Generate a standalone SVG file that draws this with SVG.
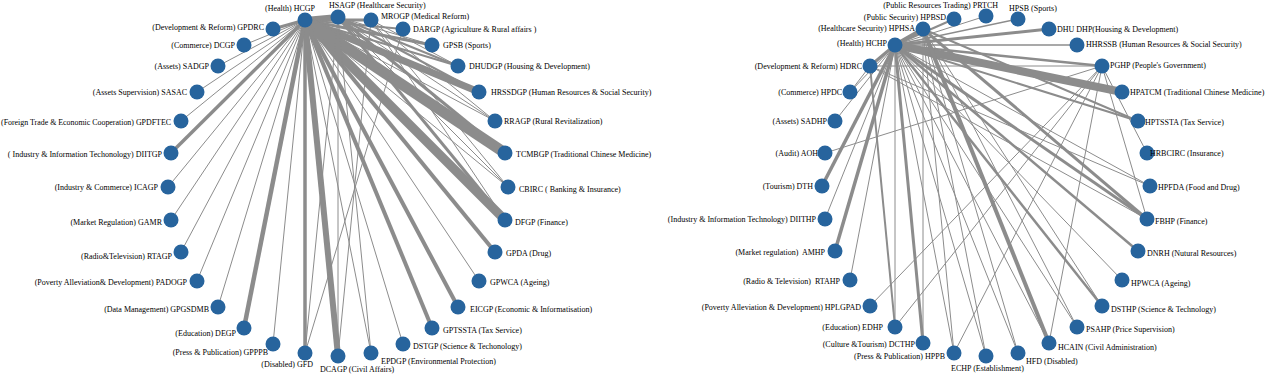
<svg xmlns="http://www.w3.org/2000/svg" width="1280" height="374" viewBox="0 0 1280 374">
<style>
.e{stroke:#8c8c8c;fill:none}
.n circle{fill:#27649d}
text{font-family:"Liberation Serif","DejaVu Serif",serif;font-size:8px;fill:#000}
.r{text-anchor:end}
.p{white-space:pre}
</style>
<rect width="1280" height="374" fill="#fff"/>
<g id="connectors-left" class="e">
<line x1="305" y1="20" x2="338" y2="17" stroke-width="6"/>
<line x1="305" y1="20" x2="371" y2="20" stroke-width="3"/>
<line x1="305" y1="20" x2="403" y2="29" stroke-width="2"/>
<line x1="305" y1="20" x2="432" y2="45" stroke-width="3"/>
<line x1="305" y1="20" x2="458" y2="66" stroke-width="2"/>
<line x1="305" y1="20" x2="479" y2="92" stroke-width="7"/>
<line x1="305" y1="20" x2="495" y2="121" stroke-width="1"/>
<line x1="305" y1="20" x2="505" y2="153" stroke-width="11"/>
<line x1="305" y1="20" x2="508" y2="187" stroke-width="1"/>
<line x1="305" y1="20" x2="505" y2="220" stroke-width="9"/>
<line x1="305" y1="20" x2="495" y2="252" stroke-width="4"/>
<line x1="305" y1="20" x2="479" y2="281" stroke-width="1"/>
<line x1="305" y1="20" x2="458" y2="307" stroke-width="4"/>
<line x1="305" y1="20" x2="432" y2="328" stroke-width="4"/>
<line x1="305" y1="20" x2="403" y2="344" stroke-width="1"/>
<line x1="305" y1="20" x2="371" y2="353" stroke-width="1"/>
<line x1="305" y1="20" x2="338" y2="356" stroke-width="6"/>
<line x1="305" y1="20" x2="305" y2="353" stroke-width="3.5"/>
<line x1="305" y1="20" x2="273" y2="344" stroke-width="1"/>
<line x1="305" y1="20" x2="244" y2="328" stroke-width="4.5"/>
<line x1="305" y1="20" x2="218" y2="307" stroke-width="1"/>
<line x1="305" y1="20" x2="197" y2="281" stroke-width="1"/>
<line x1="305" y1="20" x2="181" y2="252" stroke-width="1"/>
<line x1="305" y1="20" x2="171" y2="220" stroke-width="1"/>
<line x1="305" y1="20" x2="168" y2="187" stroke-width="1"/>
<line x1="305" y1="20" x2="171" y2="153" stroke-width="3.5"/>
<line x1="305" y1="20" x2="181" y2="121" stroke-width="1"/>
<line x1="305" y1="20" x2="197" y2="92" stroke-width="1"/>
<line x1="305" y1="20" x2="218" y2="66" stroke-width="1"/>
<line x1="305" y1="20" x2="244" y2="45" stroke-width="1"/>
<line x1="305" y1="20" x2="273" y2="29" stroke-width="3"/>
<line x1="338" y1="17" x2="432" y2="45" stroke-width="1"/>
<line x1="338" y1="17" x2="458" y2="66" stroke-width="2"/>
<line x1="338" y1="17" x2="479" y2="92" stroke-width="2"/>
<line x1="338" y1="17" x2="505" y2="153" stroke-width="3"/>
<line x1="338" y1="17" x2="505" y2="220" stroke-width="3"/>
<line x1="338" y1="17" x2="508" y2="187" stroke-width="1"/>
<line x1="338" y1="17" x2="495" y2="121" stroke-width="1"/>
<line x1="338" y1="17" x2="305" y2="353" stroke-width="1"/>
<line x1="338" y1="17" x2="371" y2="353" stroke-width="1"/>
<line x1="338" y1="17" x2="338" y2="356" stroke-width="1"/>
<line x1="371" y1="20" x2="508" y2="187" stroke-width="1"/>
<line x1="371" y1="20" x2="495" y2="121" stroke-width="1"/>
<line x1="371" y1="20" x2="505" y2="220" stroke-width="1"/>
<line x1="371" y1="20" x2="338" y2="356" stroke-width="1"/>
<line x1="371" y1="20" x2="458" y2="66" stroke-width="1"/>
<line x1="403" y1="29" x2="305" y2="353" stroke-width="1"/>
</g>
<g id="connectors-right" class="e">
<line x1="895" y1="45" x2="923" y2="29" stroke-width="4"/>
<line x1="895" y1="45" x2="954" y2="19" stroke-width="2"/>
<line x1="895" y1="45" x2="986" y2="16" stroke-width="1"/>
<line x1="895" y1="45" x2="1018" y2="19" stroke-width="1.5"/>
<line x1="895" y1="45" x2="1049" y2="29" stroke-width="3"/>
<line x1="895" y1="45" x2="1077" y2="45" stroke-width="1.5"/>
<line x1="895" y1="45" x2="1102" y2="66" stroke-width="2.5"/>
<line x1="895" y1="45" x2="1122" y2="92" stroke-width="8"/>
<line x1="895" y1="45" x2="1138" y2="121" stroke-width="2"/>
<line x1="895" y1="45" x2="1150" y2="186" stroke-width="1"/>
<line x1="895" y1="45" x2="1147" y2="219" stroke-width="3"/>
<line x1="895" y1="45" x2="1138" y2="251" stroke-width="2.5"/>
<line x1="895" y1="45" x2="1122" y2="280" stroke-width="1"/>
<line x1="895" y1="45" x2="1102" y2="306" stroke-width="2.5"/>
<line x1="895" y1="45" x2="1077" y2="327" stroke-width="1"/>
<line x1="895" y1="45" x2="1049" y2="343" stroke-width="1"/>
<line x1="895" y1="45" x2="1018" y2="353" stroke-width="1"/>
<line x1="895" y1="45" x2="986" y2="356" stroke-width="1"/>
<line x1="895" y1="45" x2="954" y2="353" stroke-width="1"/>
<line x1="895" y1="45" x2="923" y2="343" stroke-width="3"/>
<line x1="895" y1="45" x2="895" y2="327" stroke-width="1"/>
<line x1="895" y1="45" x2="850" y2="280" stroke-width="1"/>
<line x1="895" y1="45" x2="835" y2="251" stroke-width="3.5"/>
<line x1="895" y1="45" x2="825" y2="219" stroke-width="1"/>
<line x1="895" y1="45" x2="822" y2="186" stroke-width="3.5"/>
<line x1="895" y1="45" x2="835" y2="121" stroke-width="1"/>
<line x1="895" y1="45" x2="850" y2="92" stroke-width="1"/>
<line x1="895" y1="45" x2="870" y2="66" stroke-width="3"/>
<line x1="923" y1="29" x2="1147" y2="219" stroke-width="3"/>
<line x1="923" y1="29" x2="1049" y2="343" stroke-width="4"/>
<line x1="923" y1="29" x2="1138" y2="121" stroke-width="2"/>
<line x1="923" y1="29" x2="1102" y2="306" stroke-width="1"/>
<line x1="923" y1="29" x2="1018" y2="353" stroke-width="1"/>
<line x1="923" y1="29" x2="986" y2="356" stroke-width="1"/>
<line x1="923" y1="29" x2="923" y2="343" stroke-width="1"/>
<line x1="923" y1="29" x2="954" y2="353" stroke-width="1"/>
<line x1="923" y1="29" x2="1077" y2="327" stroke-width="1"/>
<line x1="1102" y1="66" x2="825" y2="153" stroke-width="1"/>
<line x1="1102" y1="66" x2="870" y2="306" stroke-width="1"/>
<line x1="1102" y1="66" x2="895" y2="327" stroke-width="1"/>
<line x1="1102" y1="66" x2="1049" y2="343" stroke-width="1"/>
<line x1="1102" y1="66" x2="1147" y2="153" stroke-width="1"/>
<line x1="1102" y1="66" x2="1147" y2="219" stroke-width="1"/>
<line x1="1102" y1="66" x2="870" y2="66" stroke-width="1"/>
<line x1="1102" y1="66" x2="954" y2="353" stroke-width="1"/>
<line x1="870" y1="66" x2="1147" y2="219" stroke-width="1"/>
<line x1="870" y1="66" x2="1150" y2="186" stroke-width="1"/>
<line x1="870" y1="66" x2="850" y2="92" stroke-width="1"/>
<line x1="870" y1="66" x2="895" y2="327" stroke-width="2"/>
</g>
<g id="HSAGP" class="n"><circle cx="338" cy="17" r="7.5"/><text x="329" y="8">HSAGP (Healthcare Security)</text></g>
<g id="MROGP" class="n"><circle cx="371" cy="20" r="7.5"/><text x="381" y="19">MROGP (Medical Reform)</text></g>
<g id="DARGP" class="n"><circle cx="403" cy="29" r="7.5"/><text x="413" y="32">DARGP (Agriculture &amp; Rural affairs )</text></g>
<g id="GPSB" class="n"><circle cx="432" cy="45" r="7.5"/><text x="443" y="48">GPSB (Sports)</text></g>
<g id="DHUDGP" class="n"><circle cx="458" cy="66" r="7.5"/><text x="469" y="69">DHUDGP (Housing &amp; Development)</text></g>
<g id="HRSSDGP" class="n"><circle cx="479" cy="92" r="7.5"/><text x="491" y="95">HRSSDGP (Human Resources &amp; Social Security)</text></g>
<g id="RRAGP" class="n"><circle cx="495" cy="121" r="7.5"/><text x="504" y="124">RRAGP (Rural Revitalization)</text></g>
<g id="TCMBGP" class="n"><circle cx="505" cy="153" r="7.5"/><text x="516" y="157">TCMBGP (Traditional Chinese Medicine)</text></g>
<g id="CBIRC" class="n"><circle cx="508" cy="187" r="7.5"/><text x="519" y="192">CBIRC ( Banking &amp; Insurance)</text></g>
<g id="DFGP" class="n"><circle cx="505" cy="220" r="7.5"/><text x="515" y="225">DFGP (Finance)</text></g>
<g id="GPDA" class="n"><circle cx="495" cy="252" r="7.5"/><text x="506" y="256">GPDA (Drug)</text></g>
<g id="GPWCA" class="n"><circle cx="479" cy="281" r="7.5"/><text x="490" y="285">GPWCA (Ageing)</text></g>
<g id="EICGP" class="n"><circle cx="458" cy="307" r="7.5"/><text x="470" y="312">EICGP (Economic &amp; Informatisation)</text></g>
<g id="GPTSSTA" class="n"><circle cx="432" cy="328" r="7.5"/><text x="443" y="333">GPTSSTA (Tax Service)</text></g>
<g id="DSTGP" class="n"><circle cx="403" cy="344" r="7.5"/><text x="413" y="349">DSTGP (Science &amp; Techonology)</text></g>
<g id="EPDGP" class="n"><circle cx="371" cy="353" r="7.5"/><text x="381" y="364">EPDGP (Environmental Protection)</text></g>
<g id="DCAGP" class="n"><circle cx="338" cy="356" r="7.5"/><text x="320" y="372">DCAGP (Civil Affairs)</text></g>
<g id="GFD" class="n"><circle cx="305" cy="353" r="7.5"/><text class="r" x="313" y="367">(Disabled) GFD</text></g>
<g id="GPPPB" class="n"><circle cx="273" cy="344" r="7.5"/><text class="r" x="268" y="355">(Press &amp; Publication) GPPPB</text></g>
<g id="DEGP" class="n"><circle cx="244" cy="328" r="7.5"/><text class="r" x="236" y="336">(Education) DEGP</text></g>
<g id="GPGSDMB" class="n"><circle cx="218" cy="307" r="7.5"/><text class="r" x="209" y="312">(Data Management) GPGSDMB</text></g>
<g id="PADOGP" class="n"><circle cx="197" cy="281" r="7.5"/><text class="r" x="187" y="285">(Poverty Alleviation&amp; Development) PADOGP</text></g>
<g id="RTAGP" class="n"><circle cx="181" cy="252" r="7.5"/><text class="r" x="172" y="259">(Radio&amp;Television) RTAGP</text></g>
<g id="GAMR" class="n"><circle cx="171" cy="220" r="7.5"/><text class="r" x="162" y="225">(Market Regulation) GAMR</text></g>
<g id="ICAGP" class="n"><circle cx="168" cy="187" r="7.5"/><text class="r" x="158" y="190">(Industry &amp; Commerce) ICAGP</text></g>
<g id="DIITGP" class="n"><circle cx="171" cy="153" r="7.5"/><text class="r" x="162" y="157">( Industry &amp; Information Techonology) DIITGP</text></g>
<g id="GPDFTEC" class="n"><circle cx="181" cy="121" r="7.5"/><text x="1" y="125" textLength="170" lengthAdjust="spacingAndGlyphs">(Foreign Trade &amp; Economic Cooperation) GPDFTEC</text></g>
<g id="SASAC" class="n"><circle cx="197" cy="92" r="7.5"/><text class="r" x="187" y="95">(Assets Supervision) SASAC</text></g>
<g id="SADGP" class="n"><circle cx="218" cy="66" r="7.5"/><text class="r" x="209" y="69">(Assets) SADGP</text></g>
<g id="DCGP" class="n"><circle cx="244" cy="45" r="7.5"/><text class="r" x="235" y="48">(Commerce) DCGP</text></g>
<g id="GPDRC" class="n"><circle cx="273" cy="29" r="7.5"/><text class="r" x="264" y="30">(Development &amp; Reform) GPDRC</text></g>
<g id="HCGP" class="n"><circle cx="305" cy="20" r="7.5"/><text class="r" x="315" y="11">(Health) HCGP</text></g>
<g id="PRTCH" class="n"><circle cx="986" cy="16" r="7.5"/><text class="r" x="998" y="8">(Public Resources Trading) PRTCH</text></g>
<g id="HPSB" class="n"><circle cx="1018" cy="19" r="7.5"/><text x="1009" y="11">HPSB (Sports)</text></g>
<g id="DHUDHP" class="n"><circle cx="1049" cy="29" r="7.5"/><text x="1057" y="32">DHU DHP(Housing &amp; Development)</text></g>
<g id="HHRSSB" class="n"><circle cx="1077" cy="45" r="7.5"/><text x="1086" y="47">HHRSSB (Human Resources &amp; Social Security)</text></g>
<g id="PGHP" class="n"><circle cx="1102" cy="66" r="7.5"/><text x="1110" y="68">PGHP (People's Government)</text></g>
<g id="HPATCM" class="n"><circle cx="1122" cy="92" r="7.5"/><text x="1130" y="95">HPATCM (Traditional Chinese Medicine)</text></g>
<g id="HPTSSTA" class="n"><circle cx="1138" cy="121" r="7.5"/><text x="1145" y="125">HPTSSTA (Tax Service)</text></g>
<g id="HRBCIRC" class="n"><circle cx="1147" cy="153" r="7.5"/><text x="1150" y="156">HRBCIRC (Insurance)</text></g>
<g id="HPFDA" class="n"><circle cx="1150" cy="186" r="7.5"/><text x="1158" y="190">HPFDA (Food and Drug)</text></g>
<g id="FBHP" class="n"><circle cx="1147" cy="219" r="7.5"/><text x="1155" y="224">FBHP (Finance)</text></g>
<g id="DNRH" class="n"><circle cx="1138" cy="251" r="7.5"/><text x="1147" y="256">DNRH (Nutural Resources)</text></g>
<g id="HPWCA" class="n"><circle cx="1122" cy="280" r="7.5"/><text x="1131" y="286">HPWCA (Ageing)</text></g>
<g id="DSTHP" class="n"><circle cx="1102" cy="306" r="7.5"/><text x="1111" y="312">DSTHP (Science &amp; Technology)</text></g>
<g id="PSAHP" class="n"><circle cx="1077" cy="327" r="7.5"/><text x="1086" y="332">PSAHP (Price Supervision)</text></g>
<g id="HCAIN" class="n"><circle cx="1049" cy="343" r="7.5"/><text x="1058" y="350">HCAIN (Civil Administration)</text></g>
<g id="HFD" class="n"><circle cx="1018" cy="353" r="7.5"/><text x="1026" y="364">HFD (Disabled)</text></g>
<g id="ECHP" class="n"><circle cx="986" cy="356" r="7.5"/><text x="951" y="371">ECHP (Establishment)</text></g>
<g id="HPPB" class="n"><circle cx="954" cy="353" r="7.5"/><text class="r" x="945" y="359">(Press &amp; Publication) HPPB</text></g>
<g id="DCTHP" class="n"><circle cx="923" cy="343" r="7.5"/><text class="r" x="915" y="347">(Culture &amp;Tourism) DCTHP</text></g>
<g id="EDHP" class="n"><circle cx="895" cy="327" r="7.5"/><text class="r" x="883" y="330">(Education) EDHP</text></g>
<g id="HPLGPAD" class="n"><circle cx="870" cy="306" r="7.5"/><text class="r" x="861" y="310">(Poverty Alleviation &amp; Development) HPLGPAD</text></g>
<g id="RTAHP" class="n"><circle cx="850" cy="280" r="7.5"/><text class="r p" x="840" y="284">(Radio &amp; Television)  RTAHP</text></g>
<g id="AMHP" class="n"><circle cx="835" cy="251" r="7.5"/><text class="r p" x="825" y="255">(Market regulation)  AMHP</text></g>
<g id="DIITHP" class="n"><circle cx="825" cy="219" r="7.5"/><text class="r" x="816" y="222">(Industry &amp; Information Technology) DIITHP</text></g>
<g id="DTH" class="n"><circle cx="822" cy="186" r="7.5"/><text class="r" x="813" y="189">(Tourism) DTH</text></g>
<g id="AOH" class="n"><circle cx="825" cy="153" r="7.5"/><text class="r" x="818" y="156">(Audit) AOH</text></g>
<g id="SADHP" class="n"><circle cx="835" cy="121" r="7.5"/><text class="r" x="827" y="124">(Assets) SADHP</text></g>
<g id="HPDC" class="n"><circle cx="850" cy="92" r="7.5"/><text class="r" x="842" y="95">(Commerce) HPDC</text></g>
<g id="HDRC" class="n"><circle cx="870" cy="66" r="7.5"/><text class="r" x="862" y="69">(Development &amp; Reform) HDRC</text></g>
<g id="HCHP" class="n"><circle cx="895" cy="45" r="7.5"/><text class="r" x="887" y="46">(Health) HCHP</text></g>
<g id="HPHSA" class="n"><circle cx="923" cy="29" r="7.5"/><text class="r" x="915" y="31">(Healthcare Security) HPHSA</text></g>
<g id="HPBSD" class="n"><circle cx="954" cy="19" r="7.5"/><text class="r" x="946" y="20">(Public Security) HPBSD</text></g>
</svg>
